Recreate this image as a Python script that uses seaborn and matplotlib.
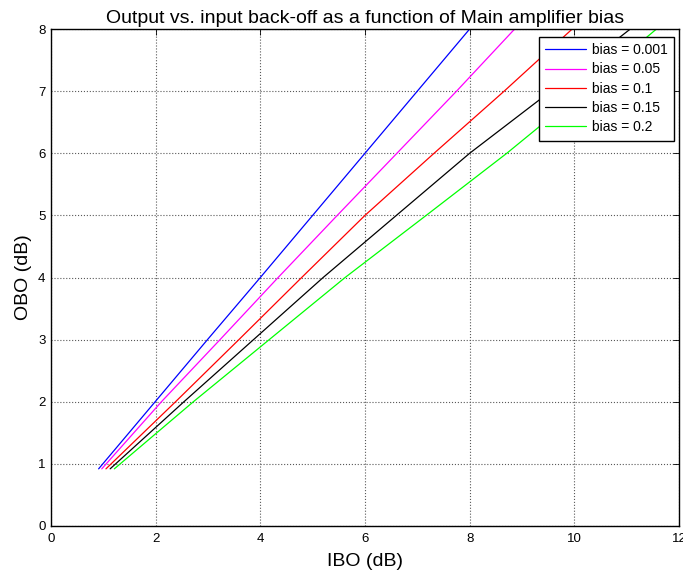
import numpy as np
import pandas as pd
import matplotlib
matplotlib.use("Agg")
import matplotlib.pyplot as plt
import seaborn as sns

# ---- data ----
bias_labels = ["bias = 0.001", "bias = 0.05", "bias = 0.1", "bias = 0.15", "bias = 0.2"]
obo_db = [0.92, 2.0, 3.0, 4.0, 5.0, 6.0, 7.0, 8.0]
ibo_bias_0001 = [0.91, 1.99, 2.99, 4.00, 5.00, 6.00, 7.00, 8.00]
ibo_bias_005 = [0.97, 2.11, 3.23, 4.34, 5.47, 6.61, 7.75, 8.86]
ibo_bias_01 = [1.05, 2.38, 3.59, 4.79, 6.00, 7.32, 8.66, 9.96]
ibo_bias_015 = [1.13, 2.54, 3.87, 5.20, 6.60, 8.00, 9.55, 11.07]
ibo_bias_02 = [1.21, 2.72, 4.17, 5.62, 7.17, 8.71, 10.16, 11.57]
line_colors = ["#0000ff", "#ff00ff", "#ff0000", "#000000", "#00ff00"]

x_ticks = [0, 2, 4, 6, 8, 10, 12]
y_ticks = [0, 1, 2, 3, 4, 5, 6, 7, 8]

ibo_series = [ibo_bias_0001, ibo_bias_005, ibo_bias_01, ibo_bias_015, ibo_bias_02]
rows = []
for lab, ibo in zip(bias_labels, ibo_series):
    for xi, yi in zip(ibo, obo_db):
        rows.append({"IBO": xi, "OBO": yi, "bias": lab})
df = pd.DataFrame(rows)

sns.set_theme(style="white")
plt.rcParams["font.family"] = ["Liberation Sans", "DejaVu Sans"]
plt.rcParams["text.color"] = "black"
plt.rcParams["axes.labelcolor"] = "black"
plt.rcParams["xtick.color"] = "black"
plt.rcParams["ytick.color"] = "black"

fig = plt.figure(figsize=(6.83, 5.73), dpi=100)
ax = fig.add_axes([51 / 683, 1 - 526 / 573, 628 / 683, 497 / 573])

sns.lineplot(data=df, x="IBO", y="OBO", hue="bias", hue_order=bias_labels,
             palette=dict(zip(bias_labels, line_colors)), sort=False,
             linewidth=0.9, ax=ax, estimator=None)

ax.set_xlim(0, 12)
ax.set_ylim(0, 8)
ax.set_xticks(x_ticks)
ax.set_yticks(y_ticks)
ax.grid(True, color="0.35", linestyle=":", linewidth=0.8)
ax.tick_params(direction="in", length=4, width=0.6, top=True, right=True,
               labelsize=9.5, colors="black")
ax.tick_params(axis="x", pad=5)
ax.tick_params(axis="y", pad=4)
for s in ax.spines.values():
    s.set_color("black")
    s.set_linewidth(1.0)

ax.set_title("Output vs. input back-off as a function of Main amplifier bias",
             fontsize=14, pad=4, color="black")
ax.set_xlabel("IBO (dB)", fontsize=14, labelpad=6)
ax.set_ylabel("OBO (dB)", fontsize=14, labelpad=4)

leg = ax.legend(loc="upper right", bbox_to_anchor=(0.992, 0.984), borderaxespad=0,
                fontsize=10, frameon=True, fancybox=False, handlelength=3.0,
                labelspacing=0.38, borderpad=0.45, handletextpad=0.4, title=None)
leg.get_frame().set_edgecolor("black")
leg.get_frame().set_linewidth(1.0)
leg.get_frame().set_alpha(1)
for t in leg.get_texts():
    t.set_color("black")

fig.savefig("out.png", dpi=100)
